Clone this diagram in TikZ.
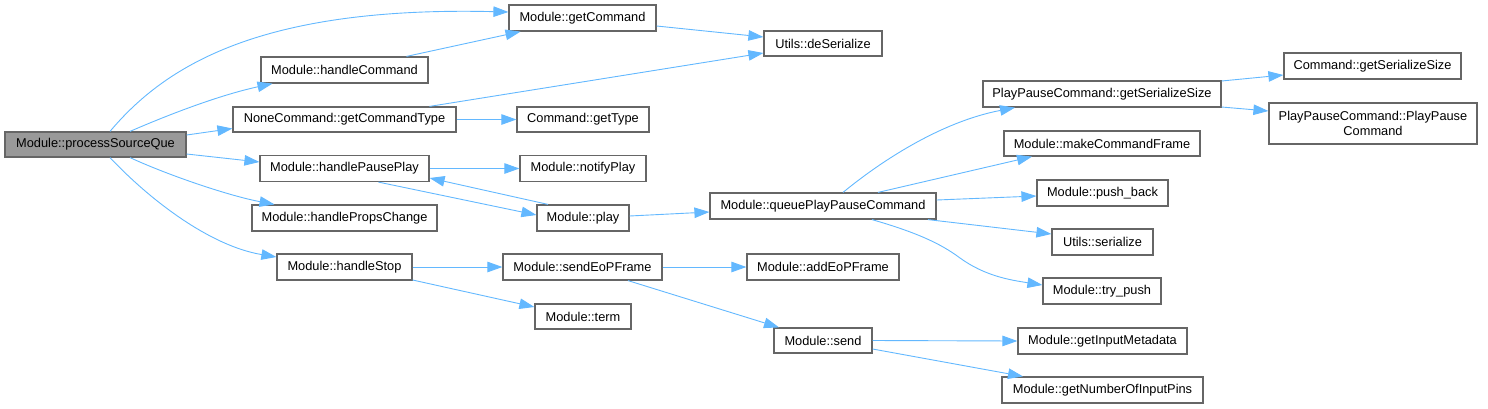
\documentclass[tikz,border=0pt]{standalone}
\usepackage{fontspec}
\setmainfont{Liberation Sans}
\usetikzlibrary{arrows.meta}
\definecolor{edgeblue}{HTML}{63B8FF}
\definecolor{boxborder}{HTML}{666666}
\definecolor{mainfill}{HTML}{999999}
\tikzset{
  fn/.style={draw=boxborder, line width=1.2pt, fill=white, inner sep=0pt, align=center,
    font=\fontsize{12.8}{15}\selectfont, text=black},
  mainfn/.style={fn, fill=mainfill},
  call/.style={draw=edgeblue, line width=0.9pt, -{Triangle[length=15pt,width=10.5pt]}},
}
\begin{document}
\begin{tikzpicture}[x=1pt,y=-1pt]
\useasboundingbox (0,0) rectangle (1488,408);
% column 1
\node[mainfn, minimum width=181pt, minimum height=25pt] (psq) at (95.5,144.5) {Module::processSourceQue};
% column 2
\node[fn, minimum width=167pt, minimum height=26pt] (hc) at (344.5,70) {Module::handleCommand};
\node[fn, minimum width=223pt, minimum height=25pt] (nct) at (344.5,119.5) {NoneCommand::getCommandType};
\node[fn, minimum width=169pt, minimum height=26pt] (hpp) at (344.5,168.5) {Module::handlePausePlay};
\node[fn, minimum width=185pt, minimum height=26pt] (hpc) at (344.5,218) {Module::handlePropsChange};
\node[fn, minimum width=135pt, minimum height=26pt] (hs) at (344.5,267) {Module::handleStop};
% column 3
\node[fn, minimum width=147pt, minimum height=26pt] (gc) at (582.5,18) {Module::getCommand};
\node[fn, minimum width=132pt, minimum height=25pt] (gt) at (583,119.5) {Command::getType};
\node[fn, minimum width=126pt, minimum height=26pt] (np) at (583,168.5) {Module::notifyPlay};
\node[fn, minimum width=92pt, minimum height=26pt] (pl) at (583,218) {Module::play};
\node[fn, minimum width=159pt, minimum height=26pt] (seof) at (582.5,267) {Module::sendEoPFrame};
\node[fn, minimum width=96pt, minimum height=25pt] (tm) at (583,316.5) {Module::term};
% column 4
\node[fn, minimum width=118pt, minimum height=25pt] (ds) at (823,43.5) {Utils::deSerialize};
\node[fn, minimum width=226pt, minimum height=26pt] (qppc) at (823,206) {Module::queuePlayPauseCommand};
\node[fn, minimum width=152pt, minimum height=26pt] (aeof) at (823,267) {Module::addEoPFrame};
\node[fn, minimum width=98pt, minimum height=25pt] (snd) at (823,340.5) {Module::send};
% column 5
\node[fn, minimum width=238pt, minimum height=26pt] (ppgss) at (1102,94) {PlayPauseCommand::getSerializeSize};
\node[fn, minimum width=196pt, minimum height=25pt] (mcf) at (1102,143.5) {Module::makeCommandFrame};
\node[fn, minimum width=131pt, minimum height=26pt] (pb) at (1102.5,193) {Module::push\_back};
\node[fn, minimum width=101pt, minimum height=26pt] (ser) at (1102.5,242) {Utils::serialize};
\node[fn, minimum width=118pt, minimum height=26pt] (tp) at (1102,291) {Module::try\_push};
\node[fn, minimum width=169pt, minimum height=26pt] (gim) at (1102.5,341) {Module::getInputMetadata};
\node[fn, minimum width=201pt, minimum height=26pt] (gnip) at (1102.5,390) {Module::getNumberOfInputPins};
% column 6
\node[fn, minimum width=177pt, minimum height=26pt] (cgss) at (1372.5,66) {Command::getSerializeSize};
\node[fn, minimum width=208pt, minimum height=41pt] (ppc) at (1373,123.5) {PlayPauseCommand::PlayPause\\Command};

% edges from processSourceQue
\draw[call] ([xshift=14.5pt]psq.north) .. controls (165,66) and (260,6) .. ([yshift=6pt]gc.west);
\draw[call] ([xshift=34.5pt]psq.north) .. controls (170,114) and (220,95) .. ([xshift=-72pt]hc.south);
\draw[call] ([yshift=9.5pt]psq.east) -- ([yshift=-9pt]nct.west);
\draw[call] ([yshift=-9.5pt]psq.east) -- ([yshift=6.5pt]hpp.west);
\draw[call] ([xshift=34.5pt]psq.south) .. controls (170,176) and (230,196) .. ([xshift=-70pt]hpc.north);
\draw[call] ([xshift=14.5pt]psq.south) .. controls (150,200) and (210,246) .. ([yshift=10pt]hs.west);
% column 2 edges
\draw[call] ([xshift=62pt]hc.north) -- ([xshift=-62pt]gc.south);
\draw[call] ([xshift=85pt]nct.north) -- ([yshift=-9.5pt]ds.west);
\draw[call] (nct.east) -- (gt.west);
\draw[call] (hpp.east) -- (np.west);
\draw[call] ([xshift=34pt]hpp.south) -- ([yshift=3pt]pl.west);
\draw[call] ([xshift=-35pt]pl.north) -- ([yshift=-9.5pt]hpp.east);
\draw[call] (hs.east) -- (seof.west);
\draw[call] ([yshift=-13pt]hs.east) -- ([yshift=9.5pt]tm.west);
% column 3 edges
\draw[call] ([yshift=-8pt]gc.east) -- ([yshift=6.5pt]ds.west);
\draw[call] ([yshift=2pt]pl.east) -- ([yshift=-6pt]qppc.west);
\draw[call] (seof.east) -- (aeof.west);
\draw[call] ([xshift=45.5pt]seof.south) -- ([xshift=-44pt]snd.north);
% column 4 edges
\draw[call] ([xshift=20pt]qppc.north) .. controls (880,162) and (940,122) .. ([xshift=-87pt]ppgss.south);
\draw[call] ([xshift=55pt]qppc.north) -- ([xshift=-70pt]mcf.south);
\draw[call] ([yshift=6pt]qppc.east) -- ([yshift=-3pt]pb.west);
\draw[call] ([xshift=105pt]qppc.south) -- ([yshift=8pt]ser.west);
\draw[call] ([xshift=49pt]qppc.south) .. controls (915,232) and (940,243) .. (960,258) .. controls (985,276) and (1010,280) .. ([yshift=6pt]tp.west);
\draw[call] (snd.east) -- (gim.west);
\draw[call] ([yshift=-8.5pt]snd.east) -- ([xshift=-79.5pt]gnip.north);
% column 5 edges
\draw[call] ([yshift=13pt]ppgss.east) -- ([yshift=-9pt]cgss.west);
\draw[call] ([yshift=-13pt]ppgss.east) -- ([yshift=12.5pt]ppc.west);
\end{tikzpicture}
\end{document}
